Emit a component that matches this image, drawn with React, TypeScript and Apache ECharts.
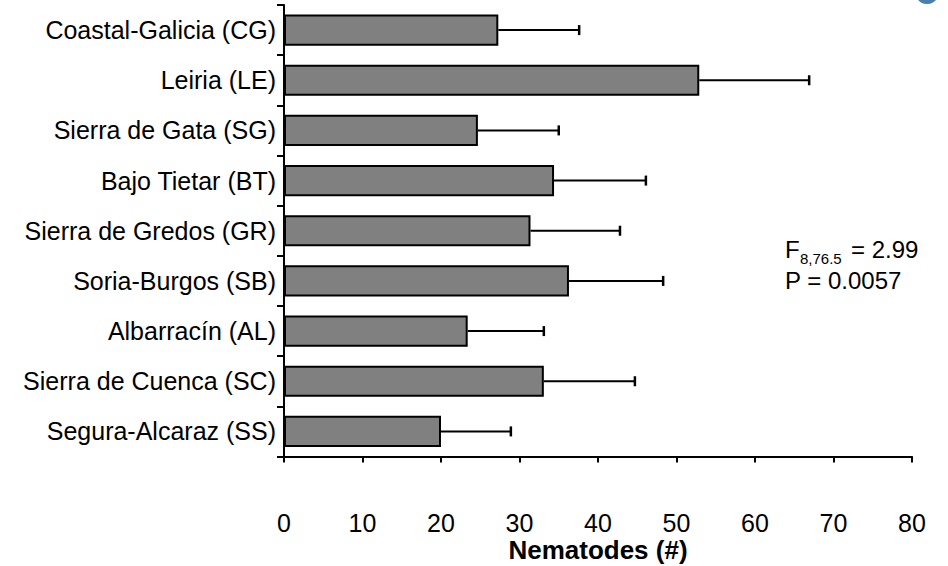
import React, { useEffect, useRef } from "react";
import * as echarts from "echarts";

// Sites, top to bottom
const sites = [
  "Coastal-Galicia (CG)",
  "Leiria (LE)",
  "Sierra de Gata (SG)",
  "Bajo Tietar (BT)",
  "Sierra de Gredos (GR)",
  "Soria-Burgos (SB)",
  "Albarracín (AL)",
  "Sierra de Cuenca (SC)",
  "Segura-Alcaraz (SS)",
];

// Mean number of nematodes per site
const means = [27.3, 52.9, 24.7, 34.4, 31.4, 36.3, 23.4, 33.1, 20.0];

// Upper end of the error bar (mean + error)
const upper = [37.6, 66.9, 35.0, 46.1, 42.8, 48.3, 33.1, 44.7, 28.9];

const xTicks = [0, 10, 20, 30, 40, 50, 60, 70, 80];

const FONT = "'Liberation Sans', Arial, Helvetica, sans-serif";

export default function App() {
  const ref = useRef<HTMLDivElement>(null);

  useEffect(() => {
    if (!ref.current) return;
    const chart = echarts.init(ref.current, null, { renderer: "svg" });

    const errData = sites.map((_, i) => [i, means[i], upper[i]]);

    chart.setOption({
      animation: false,
      backgroundColor: "#ffffff",
      grid: {
        left: 284,
        right: 36,
        top: 5,
        bottom: 109.5,
        containLabel: false,
        outerBoundsMode: "none",
      },
      xAxis: {
        type: "value",
        min: xTicks[0],
        max: xTicks[xTicks.length - 1],
        interval: 10,
        splitLine: { show: false },
        axisLine: { show: true, onZero: false, lineStyle: { color: "#000", width: 2 } },
        axisTick: { show: true, length: 6, lineStyle: { color: "#000", width: 2 } },
        axisLabel: { color: "#000", fontSize: 25, fontFamily: FONT, margin: 54 },
        name: "Nematodes (#)",
        nameLocation: "middle",
        nameGap: 80,
        nameMoveOverlap: false,
        nameTextStyle: {
          color: "#000",
          fontSize: 26,
          lineHeight: 26,
          fontWeight: "bold",
          fontFamily: FONT,
        },
      },
      yAxis: {
        type: "category",
        data: sites,
        inverse: true,
        axisLine: { show: true, lineStyle: { color: "#000", width: 2 } },
        axisTick: { show: true, length: 7, alignWithLabel: false, lineStyle: { color: "#000", width: 2 } },
        axisLabel: { color: "#000", fontSize: 25, fontFamily: FONT, margin: 8 },
        splitLine: { show: false },
      },
      series: [
        {
          type: "bar",
          data: means,
          barWidth: "62%",
          itemStyle: { color: "#808080", borderColor: "#000", borderWidth: 2 },
          z: 2,
        },
        {
          type: "custom",
          data: errData,
          z: 3,
          renderItem: (params: any, api: any) => {
            const idx = api.value(0);
            const start = api.coord([api.value(1), idx]);
            const end = api.coord([api.value(2), idx]);
            const cap = 5;
            return {
              type: "group",
              children: [
                {
                  type: "line",
                  shape: { x1: start[0], y1: start[1], x2: end[0], y2: end[1] },
                  style: { stroke: "#000", lineWidth: 2 },
                },
                {
                  type: "line",
                  shape: { x1: end[0], y1: end[1] - cap, x2: end[0], y2: end[1] + cap },
                  style: { stroke: "#000", lineWidth: 2.5 },
                },
              ],
            };
          },
        },
      ],
      graphic: [
        {
          type: "text",
          x: 785,
          y: 249,
          style: { text: "F", fontSize: 24, fontFamily: FONT, fill: "#000", align: "left", verticalAlign: "middle" },
        },
        {
          type: "text",
          x: 800,
          y: 258,
          style: { text: "8,76.5", fontSize: 15, fontFamily: FONT, fill: "#000", align: "left", verticalAlign: "middle" },
        },
        {
          type: "text",
          x: 851,
          y: 249,
          style: { text: "= 2.99", fontSize: 24, fontFamily: FONT, fill: "#000", align: "left", verticalAlign: "middle" },
        },
        {
          type: "text",
          x: 785,
          y: 280,
          style: { text: "P = 0.0057", fontSize: 24, fontFamily: FONT, fill: "#000", align: "left", verticalAlign: "middle" },
        },
        {
          type: "circle",
          shape: { cx: 927, cy: -8, r: 12 },
          style: { fill: "#4a80a8" },
        },
      ],
    });

    return () => chart.dispose();
  }, []);

  return (
    <div
      ref={ref}
      style={{ width: 948, height: 566, position: "absolute", left: 0, top: 0 }}
    />
  );
}
